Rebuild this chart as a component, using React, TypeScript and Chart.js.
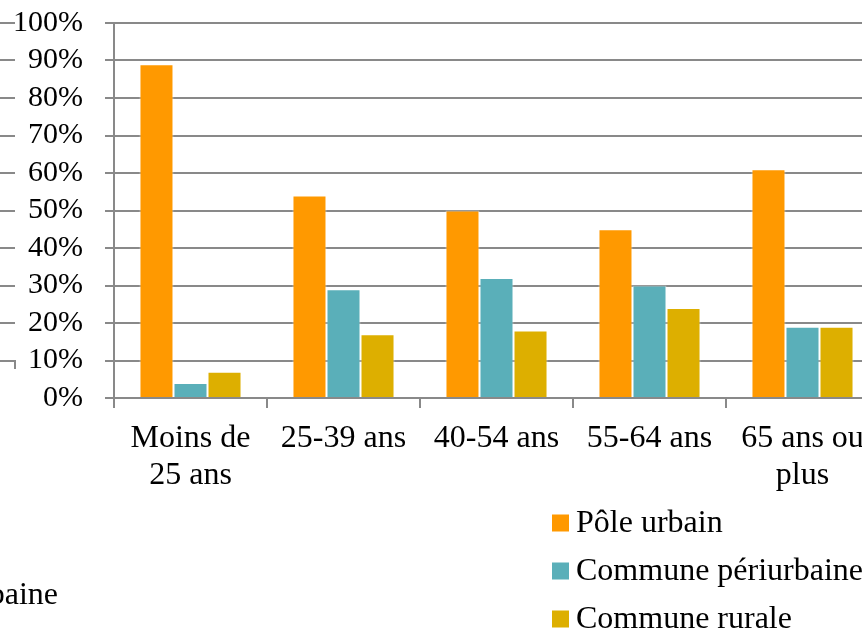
import React, { useEffect, useRef } from "react";
import { Chart, registerables } from "chart.js";

Chart.register(...registerables);

const categories: (string | string[])[] = [
  ["Moins de", "25 ans"],
  "25-39 ans",
  "40-54 ans",
  "55-64 ans",
  ["65 ans ou", "plus"],
];
const seriesNames = ["Pôle urbain", "Commune périurbaine", "Commune rurale"];
const poleUrbain = [89, 54, 50, 45, 61];
const communePeriurbaine = [4, 29, 32, 30, 19];
const communeRurale = [7, 17, 18, 24, 19];
const seriesColors = ["#FF9900", "#5AAFB9", "#DDAF00"];
const clippedNeighbourLegend = "Commune périurbaine";
const neighbourTickValues = [100, 90, 80, 70, 60, 50, 40, 30, 20];

const FONT = "'Liberation Serif', 'Times New Roman', serif";
const GRID = "#898989";
const FS = 32;

const legendPlugin = {
  id: "stackedLegend",
  afterDraw(chart: any) {
    const ctx = chart.ctx;
    const y = chart.scales.y;
    ctx.save();
    // fragments of the neighbouring chart on the left edge
    ctx.strokeStyle = GRID;
    ctx.lineWidth = 2;
    neighbourTickValues.forEach((v) => {
      const py = Math.round(y.getPixelForValue(v));
      ctx.beginPath();
      ctx.moveTo(0, py);
      ctx.lineTo(15, py);
      ctx.stroke();
    });
    const p10 = Math.round(y.getPixelForValue(10));
    ctx.beginPath();
    ctx.moveTo(0, p10);
    ctx.lineTo(15, p10);
    ctx.lineTo(15, p10 + 8);
    ctx.stroke();

    ctx.font = `${FS}px ${FONT}`;
    ctx.textBaseline = "middle";
    ctx.textAlign = "left";
    chart.data.datasets.forEach((ds: any, i: number) => {
      const cy = 523 + i * 48;
      ctx.fillStyle = ds.backgroundColor;
      ctx.fillRect(552, cy - 8.5, 17, 17);
      ctx.fillStyle = "#000";
      ctx.fillText(ds.label, 576, cy + 1);
    });
    ctx.textAlign = "right";
    ctx.textBaseline = "alphabetic";
    ctx.fillStyle = "#000";
    ctx.fillText(clippedNeighbourLegend, 58, 604);
    ctx.restore();
  },
};

export default function App() {
  const ref = useRef<HTMLCanvasElement | null>(null);

  useEffect(() => {
    document.body.style.margin = "0";
    const canvas = ref.current;
    if (!canvas) return;
    const values = [poleUrbain, communePeriurbaine, communeRurale];
    const chart = new Chart(canvas, {
      type: "bar",
      data: {
        labels: categories,
        datasets: seriesNames.map((name, i) => ({
          label: name,
          data: values[i],
          backgroundColor: seriesColors[i],
          borderColor: "rgba(255,255,255,0.55)",
          borderWidth: 1,
          categoryPercentage: 0.667,
          barPercentage: 1,
        })),
      },
      options: {
        responsive: false,
        animation: false,
        devicePixelRatio: 1,
        layout: { padding: { top: 23, right: 21, left: 0, bottom: 0 } },
        plugins: {
          legend: { display: false },
          tooltip: { enabled: false },
          title: { display: false },
        },
        scales: {
          x: {
            grid: {
              display: true,
              drawOnChartArea: false,
              drawTicks: true,
              tickLength: 10,
              color: GRID,
              lineWidth: 2,
            },
            border: { display: true, color: GRID, width: 2 },
            ticks: {
              color: "#000",
              font: { family: FONT, size: FS, lineHeight: 1.15 },
              padding: 12,
              maxRotation: 0,
              autoSkip: false,
            },
            afterFit(scale: any) {
              scale.height = 232;
            },
          },
          y: {
            min: 0,
            max: 100,
            ticks: {
              stepSize: 10,
              autoSkip: false,
              color: "#000",
              font: { family: FONT, size: 30, lineHeight: 1.2 },
              padding: 22,
              callback: (v: any) => `${v}%`,
            },
            grid: {
              color: GRID,
              lineWidth: 2,
              drawTicks: true,
              tickLength: 9,
            },
            border: { display: true, color: GRID, width: 2 },
            afterFit(scale: any) {
              scale.width = 114;
              scale.paddingTop = 0;
              scale.paddingBottom = 0;
            },
          },
        },
      },
      plugins: [legendPlugin],
    });
    return () => chart.destroy();
  }, []);

  return (
    <div style={{ width: 862, height: 630, overflow: "hidden", position: "relative", background: "#fff" }}>
      <canvas ref={ref} width={900} height={630} style={{ display: "block" }} />
    </div>
  );
}
